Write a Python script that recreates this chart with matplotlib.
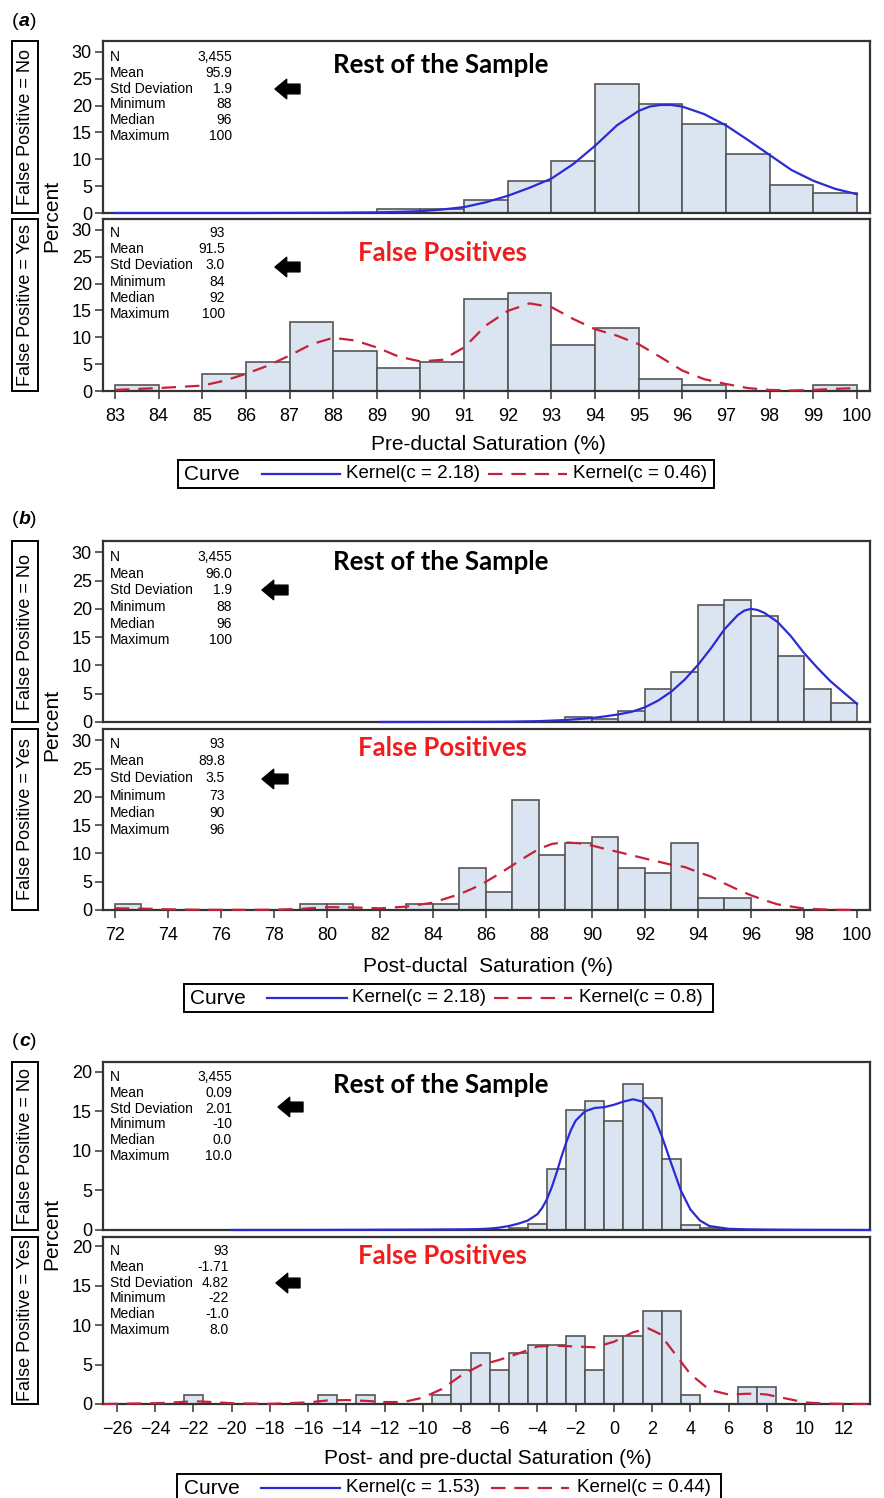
import matplotlib
matplotlib.use('Agg')
import matplotlib.pyplot as plt
from matplotlib import font_manager
from matplotlib.lines import Line2D
from matplotlib.patches import Rectangle

# ---------------- data ----------------
# (a) pre-ductal saturation, bars = 1 unit bins given by their left edge
a_no_bins = [89, 90, 91, 92, 93, 94, 95, 96, 97, 98, 99]
a_no_pct = [0.7, 0.7, 2.4, 6.0, 9.6, 24.0, 20.2, 16.5, 10.9, 5.3, 3.7]
a_yes_bins = [83, 85, 86, 87, 88, 89, 90, 91, 92, 93, 94, 95, 96, 99]
a_yes_pct = [1.1, 3.2, 5.4, 12.9, 7.5, 4.3, 5.4, 17.2, 18.3, 8.6, 11.8, 2.2, 1.1, 1.1]
a_kde_no_x = [83, 84, 85, 86, 87, 88, 89, 89.5, 90, 90.5, 91, 91.5, 92, 92.5, 93, 93.5,
              94, 94.5, 95, 95.25, 95.5, 95.75, 96, 96.5, 97, 97.5, 98, 98.5, 99, 99.5, 100]
a_kde_no_y = [0, 0, 0, 0, 0.02, 0.05, 0.12, 0.2, 0.35, 0.65, 1.1, 2.0, 3.2, 4.7, 6.4, 9.1,
              12.5, 16.3, 19.0, 19.8, 20.1, 20.1, 19.8, 18.4, 16.3, 13.6, 10.8, 8.0, 6.0, 4.5, 3.5]
a_kde_yes_x = [83, 84, 85, 85.5, 86, 86.5, 87, 87.5, 88, 88.5, 89, 89.5, 90, 90.5, 91, 91.5,
               92, 92.5, 93, 93.5, 94, 94.5, 95, 95.5, 96, 96.5, 97, 97.5, 98, 98.5, 99, 99.5, 100]
a_kde_yes_y = [0.2, 0.55, 1.0, 1.9, 3.2, 4.7, 6.6, 8.7, 9.9, 9.4, 8.1, 6.4, 5.5, 5.8, 8.1, 12.2,
               14.9, 16.3, 15.6, 13.4, 11.5, 10.3, 8.7, 6.3, 3.8, 2.2, 1.3, 0.55, 0.2, 0.1, 0.2, 0.4, 0.55]

# (b) post-ductal saturation
b_no_bins = [89, 90, 91, 92, 93, 94, 95, 96, 97, 98, 99]
b_no_pct = [0.8, 0.6, 2.0, 5.9, 8.8, 20.6, 21.6, 18.8, 11.6, 5.8, 3.4]
b_yes_bins = [72, 79, 80, 83, 84, 85, 86, 87, 88, 89, 90, 91, 92, 93, 94, 95]
b_yes_pct = [1.1, 1.1, 1.1, 1.1, 1.1, 7.5, 3.2, 19.4, 9.7, 11.8, 12.9, 7.5, 6.5, 11.8, 2.2, 2.2]
b_kde_no_x = [82, 84, 86, 87, 88, 89, 90, 90.5, 91, 91.5, 92, 92.5, 93, 93.5, 94, 94.5,
              95, 95.5, 95.75, 96, 96.25, 96.5, 97, 97.5, 98, 98.5, 99, 99.5, 100]
b_kde_no_y = [0, 0.01, 0.03, 0.07, 0.15, 0.35, 0.7, 1.0, 1.35, 1.8, 2.6, 3.8, 5.4, 7.5, 10.1, 13.1,
              16.4, 18.9, 19.7, 20.0, 19.8, 19.3, 17.7, 15.2, 12.2, 9.6, 7.2, 5.2, 3.2]
b_kde_yes_x = [72, 73, 74, 75, 76, 77, 78, 79, 80, 81, 82, 83, 84, 85, 85.5, 86, 86.5, 87, 87.5,
               88, 88.5, 89, 89.5, 90, 90.5, 91, 92, 93, 93.5, 94, 94.5, 95, 95.5, 96, 96.5,
               97, 98, 99, 100]
b_kde_yes_y = [0.3, 0.25, 0.12, 0.05, 0.03, 0.03, 0.05, 0.2, 0.5, 0.45, 0.3, 0.6, 1.3, 2.8, 3.8,
               5.0, 6.4, 7.9, 9.4, 10.8, 11.7, 11.95, 11.8, 11.4, 10.8, 10.25, 9.1, 8.0, 7.6,
               6.7, 5.9, 4.7, 3.6, 2.6, 1.75, 1.0, 0.25, 0.05, 0]

# (c) post- minus pre-ductal, bars centred on integers
c_no_bins = [-5, -4, -3, -2, -1, 0, 1, 2, 3, 4, 5]
c_no_pct = [0.25, 0.7, 7.7, 15.2, 16.3, 13.8, 18.4, 16.7, 9.0, 0.6, 0.25]
c_yes_bins = [-22, -15, -13, -9, -8, -7, -6, -5, -4, -3, -2, -1, 0, 1, 2, 3, 4, 7, 8]
c_yes_pct = [1.1, 1.1, 1.1, 1.1, 4.3, 6.5, 4.3, 6.5, 7.5, 7.5, 8.6, 4.3, 8.6, 8.6, 11.8, 11.8,
             1.1, 2.2, 2.2]
c_kde_no_x = [-20, -15, -10, -8, -7, -6.5, -6, -5.5, -5, -4.5, -4, -3.75, -3.5, -3.25, -3, -2.75,
              -2.5, -2.25, -2, -1.5, -1, -0.5, 0, 0.5, 1, 1.5, 2, 2.5, 3, 3.5, 4, 4.5, 5, 6, 7,
              8, 10, 13.4]
c_kde_no_y = [0, 0.01, 0.05, 0.08, 0.12, 0.18, 0.3, 0.5, 0.8, 1.2, 2.0, 2.8, 3.9, 5.4, 7.2, 9.2,
              11.0, 12.6, 13.8, 15.0, 15.4, 15.5, 15.8, 16.2, 16.5, 16.2, 14.9, 11.9, 8.4, 5.0,
              2.6, 1.2, 0.5, 0.15, 0.08, 0.05, 0.02, 0]
c_kde_yes_x = [-26.7, -24, -23, -22, -21, -20, -18, -16, -15, -14, -13, -12, -11, -10, -9, -8,
               -7, -6, -5, -4, -3, -2, -1, 0, 1, 1.8, 2.4, 3, 4, 5, 6, 7, 7.5, 8, 9, 10, 11,
               12, 13.4]
c_kde_yes_y = [0, 0.1, 0.2, 0.35, 0.25, 0.1, 0.02, 0.2, 0.45, 0.5, 0.4, 0.25, 0.25, 0.8, 1.9,
               3.6, 4.9, 5.6, 6.4, 7.3, 7.4, 7.3, 7.2, 7.9, 9.1, 9.6, 8.9, 7.0, 3.8, 1.8, 1.2,
               1.3, 1.3, 1.2, 0.7, 0.2, 0.06, 0.02, 0]

stat_names = ['N', 'Mean', 'Std Deviation', 'Minimum', 'Median', 'Maximum']
a_no_stats = ['3,455', '95.9', '1.9', '88', '96', '100']
a_yes_stats = ['93', '91.5', '3.0', '84', '92', '100']
b_no_stats = ['3,455', '96.0', '1.9', '88', '96', '100']
b_yes_stats = ['93', '89.8', '3.5', '73', '90', '96']
c_no_stats = ['3,455', '0.09', '2.01', '-10', '0.0', '10.0']
c_yes_stats = ['93', '-1.71', '4.82', '-22', '-1.0', '8.0']

# ---------------- styling ----------------
W, H = 884, 1498
installed = {f.name for f in font_manager.fontManager.ttflist}
SANS = 'Liberation Sans' if 'Liberation Sans' in installed else 'DejaVu Sans'
BOLD = 'Lato' if 'Lato' in installed else SANS
plt.rcParams['font.family'] = [SANS, 'DejaVu Sans']

BAR_FC = '#dae5f1'
BAR_EC = '#555555'
BLUE = '#2b2bd6'
RED = '#c8203a'
TITLE_RED = '#f21c1c'
FRAME = '#333333'
DASH = (6.5, 4)

fig = plt.figure(figsize=(W / 100, H / 100), dpi=100)


def fx(x):
    return x / W


def fy(y):
    return 1 - y / H


def make_axes(l, t, r, b):
    return fig.add_axes([l / W, 1 - b / H, (r - l) / W, (b - t) / H])


def style_axes(ax, xlim, xticks, ylim, yticks, bottom):
    ax.set_xlim(*xlim)
    ax.set_ylim(*ylim)
    ax.set_yticks(yticks)
    ax.set_xticks(xticks)
    for s in ax.spines.values():
        s.set_color(FRAME)
        s.set_linewidth(1.6)
    ax.tick_params(axis='y', direction='out', length=6, width=1.1, color=FRAME,
                   labelsize=13, pad=2)
    if bottom:
        ax.tick_params(axis='x', direction='out', length=6, width=1.1, color=FRAME,
                       labelsize=13, pad=6)
    else:
        ax.tick_params(axis='x', length=0, labelbottom=False)


def stats_block(values, y0, dy, vx):
    for i, (name, val) in enumerate(zip(stat_names, values)):
        fig.text(fx(110), fy(y0 + i * dy), name, fontsize=10, va='center', ha='left')
        fig.text(fx(vx), fy(y0 + i * dy), val, fontsize=10, va='center', ha='right')


def arrow(x_tip, x_tail, y):
    plt.annotate('', xy=(x_tip, H - y), xytext=(x_tail, H - y), xycoords='figure pixels',
                 textcoords='figure pixels',
                 arrowprops=dict(arrowstyle='simple,head_length=0.6,head_width=1.0,tail_width=0.5',
                                 color='black', mutation_scale=14, shrinkA=0, shrinkB=0))


def strip(t, b, text):
    fig.add_artist(Rectangle((fx(12), fy(b)), fx(38) - fx(12), fy(t) - fy(b),
                             transform=fig.transFigure, fill=False, ec='black', lw=1.4))
    fig.text(fx(25.5), fy((t + b) / 2), text, rotation=90, ha='center', va='center', fontsize=13)


def legend_box(y, box, curve_x, blue_seg, lab1_x, lab1, red_seg, lab2_x, lab2):
    fig.add_artist(Rectangle((fx(box[0]), fy(y + 14)), fx(box[1]) - fx(box[0]), fy(y - 14) - fy(y + 14),
                             transform=fig.transFigure, fill=False, ec='black', lw=1.4))
    fig.text(fx(curve_x), fy(y), 'Curve', fontsize=15, va='center', ha='left')
    fig.add_artist(Line2D([fx(blue_seg[0]), fx(blue_seg[1])], [fy(y), fy(y)], transform=fig.transFigure,
                          color=BLUE, lw=1.6))
    fig.text(fx(lab1_x), fy(y), lab1, fontsize=13.5, va='center', ha='left')
    fig.add_artist(Line2D([fx(red_seg[0]), fx(red_seg[1])], [fy(y), fy(y)], transform=fig.transFigure,
                          color=RED, lw=1.6, dashes=DASH))
    fig.text(fx(lab2_x), fy(y), lab2, fontsize=13.5, va='center', ha='left')


def panel_tag(y, letter):
    fig.text(fx(12), fy(y), '(', fontsize=14, va='center', ha='left')
    fig.text(fx(19), fy(y), letter, fontsize=14, va='center', ha='left', fontweight='bold',
             fontstyle='italic')
    fig.text(fx(30), fy(y), ')', fontsize=14, va='center', ha='left')


def titles(y_top, y_bot):
    fig.text(fx(441), fy(y_top), 'Rest of the Sample', family=BOLD, fontweight='bold', fontsize=18.5,
             ha='center', va='center')
    fig.text(fx(443), fy(y_bot), 'False Positives', family=BOLD, fontweight='bold', fontsize=18.5,
             ha='center', va='center', color=TITLE_RED)


def draw_pair(top_rect, bot_rect, xlim, xticks, ylim, yticks, align,
              no_bins, no_pct, yes_bins, yes_pct, kno_x, kno_y, kyes_x, kyes_y):
    ax1 = make_axes(*top_rect)
    ax2 = make_axes(*bot_rect)
    for ax, bins, pct in ((ax1, no_bins, no_pct), (ax2, yes_bins, yes_pct)):
        ax.bar(bins, pct, width=1, align=align, color=BAR_FC, edgecolor=BAR_EC, linewidth=1.2, zorder=2)
    ax1.plot(kno_x, kno_y, color=BLUE, lw=1.6, zorder=3, clip_on=False, solid_joinstyle='round')
    ax2.plot(kyes_x, kyes_y, color=RED, lw=1.6, dashes=DASH, zorder=3, clip_on=False)
    style_axes(ax1, xlim, xticks, ylim, yticks, False)
    style_axes(ax2, xlim, xticks, ylim, yticks, True)
    return ax1, ax2


# ---------------- panel (a) ----------------
panel_tag(21, 'a')
draw_pair((103, 41, 870, 213), (103, 219, 870, 391), (82.725, 100.3), list(range(83, 101)),
          (0, 32), [0, 5, 10, 15, 20, 25, 30], 'edge',
          a_no_bins, a_no_pct, a_yes_bins, a_yes_pct, a_kde_no_x, a_kde_no_y, a_kde_yes_x, a_kde_yes_y)
stats_block(a_no_stats, 57, 15.8, 232)
stats_block(a_yes_stats, 233, 16.2, 225)
arrow(275, 300, 89)
arrow(275, 300, 267)
titles(65, 253)
strip(41, 213, 'False Positive = No')
strip(219, 391, 'False Positive = Yes')
fig.text(fx(52), fy(216), 'Percent', rotation=90, fontsize=15, ha='center', va='center')
fig.text(fx(488), fy(445), 'Pre-ductal Saturation (%)', fontsize=15, ha='center', va='center')
legend_box(474, (178, 714), 184, (262, 340), 346, 'Kernel(c = 2.18)', (488, 567), 573, 'Kernel(c = 0.46)')

# ---------------- panel (b) ----------------
panel_tag(520, 'b')
draw_pair((103, 541, 870, 722), (103, 729, 870, 910), (71.55, 100.49), list(range(72, 101, 2)),
          (0, 32), [0, 5, 10, 15, 20, 25, 30], 'edge',
          b_no_bins, b_no_pct, b_yes_bins, b_yes_pct, b_kde_no_x, b_kde_no_y, b_kde_yes_x, b_kde_yes_y)
stats_block(b_no_stats, 557, 16.7, 232)
stats_block(b_yes_stats, 744, 17.2, 225)
arrow(262, 288, 590)
arrow(262, 288, 779)
titles(562, 748)
strip(541, 722, 'False Positive = No')
strip(729, 910, 'False Positive = Yes')
fig.text(fx(52), fy(725), 'Percent', rotation=90, fontsize=15, ha='center', va='center')
fig.text(fx(488), fy(967), 'Post-ductal  Saturation (%)', fontsize=15, ha='center', va='center')
legend_box(998, (184, 713), 190, (267, 347), 352, 'Kernel(c = 2.18)', (494, 572), 579, 'Kernel(c = 0.8)')

# ---------------- panel (c) ----------------
panel_tag(1042, 'c')
draw_pair((103, 1062, 870, 1230), (103, 1237, 870, 1404), (-26.73, 13.4), list(range(-26, 13, 2)),
          (0, 21.2), [0, 5, 10, 15, 20], 'center',
          c_no_bins, c_no_pct, c_yes_bins, c_yes_pct, c_kde_no_x, c_kde_no_y, c_kde_yes_x, c_kde_yes_y)
stats_block(c_no_stats, 1077, 15.8, 232)
stats_block(c_yes_stats, 1251, 15.8, 229)
arrow(278, 303, 1107)
arrow(276, 300, 1283)
titles(1085, 1256)
strip(1062, 1230, 'False Positive = No')
strip(1237, 1404, 'False Positive = Yes')
fig.text(fx(52), fy(1234), 'Percent', rotation=90, fontsize=15, ha='center', va='center')
fig.text(fx(488), fy(1459), 'Post- and pre-ductal Saturation (%)', fontsize=15, ha='center', va='center')
legend_box(1488, (177, 721), 184, (261, 340), 346, 'Kernel(c = 1.53)', (491, 569), 577, 'Kernel(c = 0.44)')

fig.savefig('out.png', dpi=100)
